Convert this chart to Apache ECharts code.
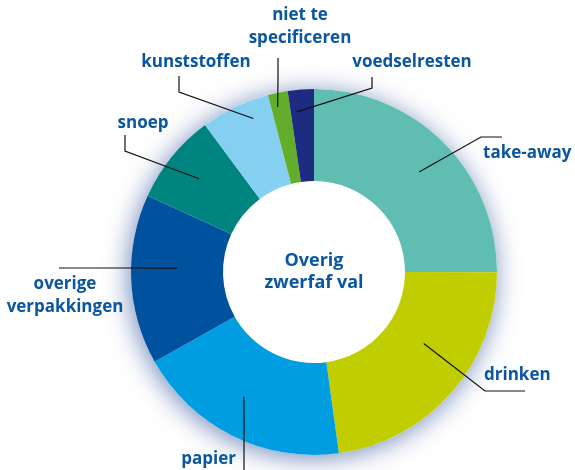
<!DOCTYPE html>
<html>
<head>
<meta charset="utf-8">
<script src="https://cdn.jsdelivr.net/npm/echarts@6/dist/echarts.min.js"></script>
<style>
  html, body { margin: 0; padding: 0; background: #fff; }
  #chart { width: 575px; height: 470px; }
</style>
</head>
<body>
<div id="chart"></div>
<script>
  // share of each fraction (percent), clockwise from 12 o'clock
  const categories = ['take-away', 'drinken', 'papier', 'overige\nverpakkingen', 'snoep', 'kunststoffen', 'niet te\nspecificeren', 'voedselresten']
  const values = [25, 22.8, 19.0, 15.0, 8.0, 6.1, 1.75, 2.3]
  const colors = ['#5fbdb1', '#c0cd00', '#009ee0', '#00519e', '#00847f', '#85d0f0', '#63ad2b', '#1d2b80']
  const centerTitle = 'Overig\nzwerfaf val'

  const CX = 314, CY = 272, R_IN = 91, R_OUT = 183
  const textColor = '#0b56a1'

  // leader line start: [angle tweak in degrees, radius], then elbow, end, label anchor
  const leaders = [
    { start: [1.4, 145], elbow: [481, 137], end: [502, 137], label: [483, 153], align: 'left' },
    { start: [-8, 131], elbow: [485, 391], end: [525, 391], label: [484, 375], align: 'left' },
    { start: [3, 143], elbow: [244, 433], end: [244, 470], label: [236, 459], align: 'right' },
    { start: [4, 137], elbow: [118, 268], end: [59, 268], label: [65, 296], align: 'center' },
    { start: [0, 148], elbow: [125, 151], end: [125, 135], label: [143, 123], align: 'center' },
    { start: [4, 165], elbow: [179, 92], end: [179, 76], label: [196, 62], align: 'center' },
    { start: [-1, 169], elbow: [278, 80], end: [278, 58], label: [300, 27], align: 'center' },
    { start: [-2, 161], elbow: [372, 88], end: [372, 77], label: [412, 62], align: 'center' }
  ]

  const total = values.reduce((a, b) => a + b, 0)
  const midAngles = []
  let acc = 0
  values.forEach(v => {
    midAngles.push((acc + v / 2) / total * 360)
    acc += v
  })

  function startPoint(i) {
    const a = (midAngles[i] + leaders[i].start[0]) * Math.PI / 180
    const r = leaders[i].start[1]
    return [CX + r * Math.sin(a), CY - r * Math.cos(a)]
  }

  // leader lines drawn on top of the ring
  const leaderLines = leaders.map((l, i) => ({
    type: 'polyline',
    z: 20,
    silent: true,
    shape: { points: [startPoint(i), l.elbow, l.end] },
    style: { stroke: '#111', lineWidth: 1.2, fill: null }
  }))

  const myChart = echarts.init(document.getElementById('chart'))

  myChart.setOption({
    animation: false,
    color: colors,
    graphic: [
      {
        type: 'text',
        x: CX,
        y: CY,
        z: 10,
        style: {
          text: centerTitle,
          textAlign: 'center',
          textVerticalAlign: 'middle',
          fill: textColor,
          font: 'bold 18px "Open Sans"',
          lineHeight: 22
        }
      },
      ...leaderLines
    ],
    series: [
      {
        // soft glow behind the ring
        type: 'pie',
        silent: true,
        z: 1,
        center: [CX, CY],
        radius: [0, R_OUT],
        label: { show: false },
        labelLine: { show: false },
        itemStyle: {
          color: '#fff',
          shadowBlur: 26,
          shadowColor: 'rgba(20, 60, 140, 0.6)',
          shadowOffsetX: -2,
          shadowOffsetY: 3
        },
        data: [{ value: 1, name: 'bg' }]
      },
      {
        type: 'pie',
        z: 2,
        center: [CX, CY],
        radius: [R_IN, R_OUT],
        startAngle: 90,
        clockwise: true,
        avoidLabelOverlap: false,
        itemStyle: { borderWidth: 0 },
        label: {
          show: true,
          position: 'outside',
          color: textColor,
          fontFamily: 'Open Sans',
          fontWeight: 'bold',
          fontSize: 17,
          lineHeight: 23,
          formatter: p => p.name
        },
        labelLine: { show: false },
        labelLayout: params => {
          const l = leaders[params.dataIndex]
          return {
            x: l.label[0],
            y: l.label[1],
            align: l.align,
            verticalAlign: 'middle'
          }
        },
        data: categories.map((name, i) => ({ name, value: values[i] }))
      }
    ]
  })
</script>
</body>
</html>
